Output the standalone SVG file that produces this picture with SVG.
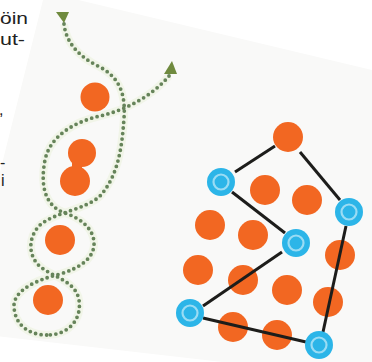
<svg xmlns="http://www.w3.org/2000/svg" width="372" height="362" viewBox="0 0 372 362">
<style>
.txt{font-family:"Liberation Sans","DejaVu Sans",sans-serif;font-size:16px;fill:#222}
.or{fill:#f26722}
.bo{fill:#2cb5e8}
.bi{fill:none;stroke:#9adcf4;stroke-width:2.2}
.edge{stroke:#1d1d1b;stroke-width:3;fill:none}
.dot{fill:none;stroke:#66845a;stroke-width:3.8;stroke-linecap:round;stroke-dasharray:0 5.6}
.halo{fill:none;stroke:#f1f5e8;stroke-width:8}
.ah{fill:#6f8a3e}
</style>
<rect width="372" height="362" fill="#fff"/>
<polygon points="45,-8 380,72 380,380 -40,332" fill="#f9f9f8"/>
<text class="txt" x="0" y="24" textLength="28" lengthAdjust="spacingAndGlyphs">öin</text>
<text class="txt" x="0" y="45" textLength="25" lengthAdjust="spacingAndGlyphs">ut-</text>
<text class="txt" x="-1" y="115">,</text>
<text class="txt" x="0" y="168">-</text>
<text class="txt" x="1" y="186">i</text>

<g id="helix-connectors">
<path class="halo" d="M64,24 C66,42 78,56 98,66 C118,76 126,92 124,118 C122,148 118,176 100,196 C85,210 55,212 40,225 C27,238 28,258 42,268 C56,278 76,282 79,300 C82,320 68,335 47,335"/>
<path class="halo" d="M169,76 C152,96 126,110 100,116 C74,122 50,136 45,160 C40,186 45,206 65,213 C80,218 93,228 94,242 C95,258 80,268 60,274 C36,280 15,290 14,305 C14,324 28,335 47,335"/>
<path class="dot" d="M64,24 C66,42 78,56 98,66 C118,76 126,92 124,118 C122,148 118,176 100,196 C85,210 55,212 40,225 C27,238 28,258 42,268 C56,278 76,282 79,300 C82,320 68,335 47,335"/>
<path class="dot" d="M169,76 C152,96 126,110 100,116 C74,122 50,136 45,160 C40,186 45,206 65,213 C80,218 93,228 94,242 C95,258 80,268 60,274 C36,280 15,290 14,305 C14,324 28,335 47,335"/>
<polygon class="ah" points="56,12 69,12 64,23"/>
<polygon class="ah" points="172,61 177,74 164,74"/>
</g>

<g id="helix-nodes">
<g id="h1"><circle class="or" cx="95" cy="97" r="14.5"/></g>
<g id="h2"><circle class="or" cx="82" cy="153" r="14"/><circle class="or" cx="75" cy="181" r="15"/><rect class="or" x="72" y="160" width="10" height="14"/></g>
<g id="h3"><circle class="or" cx="60" cy="240" r="15"/></g>
<g id="h4"><circle class="or" cx="48" cy="300" r="15"/></g>
</g>

<g id="graph-orange-nodes">
<g id="o1"><circle class="or" cx="288" cy="137" r="15"/></g>
<g id="o2"><circle class="or" cx="265" cy="190" r="15"/></g>
<g id="o3"><circle class="or" cx="307" cy="200" r="15"/></g>
<g id="o4"><circle class="or" cx="210" cy="225" r="15"/></g>
<g id="o5"><circle class="or" cx="253" cy="235" r="15"/></g>
<g id="o6"><circle class="or" cx="340" cy="255" r="15"/></g>
<g id="o7"><circle class="or" cx="198" cy="270" r="15"/></g>
<g id="o8"><circle class="or" cx="243" cy="280" r="15"/></g>
<g id="o9"><circle class="or" cx="287" cy="290" r="15"/></g>
<g id="o10"><circle class="or" cx="328" cy="302" r="15"/></g>
<g id="o11"><circle class="or" cx="233" cy="327" r="15"/></g>
<g id="o12"><circle class="or" cx="277" cy="335" r="15"/></g>
</g>

<g id="graph-connectors">
<line class="edge" x1="275" y1="146" x2="235" y2="172"/>
<line class="edge" x1="300" y1="152" x2="340" y2="200"/>
<line class="edge" x1="232" y1="192" x2="285" y2="233"/>
<line class="edge" x1="282" y1="252" x2="203" y2="306"/>
<line class="edge" x1="203" y1="318" x2="306" y2="342"/>
<line class="edge" x1="346" y1="226" x2="323" y2="332"/>
</g>

<g id="graph-blue-nodes">
<g id="b1"><circle class="bo" cx="221" cy="182" r="14"/><circle class="bi" cx="221" cy="182" r="7.5"/></g>
<g id="b2"><circle class="bo" cx="349" cy="212" r="14"/><circle class="bi" cx="349" cy="212" r="7.5"/></g>
<g id="b3"><circle class="bo" cx="296" cy="243" r="14"/><circle class="bi" cx="296" cy="243" r="7.5"/></g>
<g id="b4"><circle class="bo" cx="190" cy="313" r="14"/><circle class="bi" cx="190" cy="313" r="7.5"/></g>
<g id="b5"><circle class="bo" cx="319" cy="345" r="14"/><circle class="bi" cx="319" cy="345" r="7.5"/></g>
</g>
</svg>
